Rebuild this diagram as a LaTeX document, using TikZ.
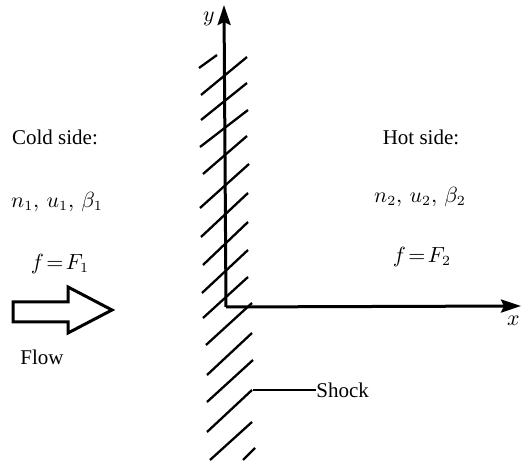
\documentclass[tikz,border=0pt]{standalone}
\usepackage{fontspec}
\setmainfont{Liberation Serif}
\usetikzlibrary{arrows.meta}
\tikzset{
  axis/.style={line width=1.5pt,-{Stealth[length=10pt,width=6.5pt,inset=1.5pt]}},
  hatch/.style={line width=1.15pt},
  lbl/.style={inner sep=0pt,font=\fontsize{10.5}{12}\selectfont},
  flowarrow/.style={line width=1.5pt,line join=miter}
}
\begin{document}
\begin{tikzpicture}[x=0.5pt,y=-0.5pt]
\useasboundingbox (0,0) rectangle (521,464);
% axes
\coordinate (O) at (226,307);
\coordinate (ytip) at (224,5);
\coordinate (xtip) at (521,306);
\draw[axis] (O) -- (ytip);
\draw[axis] (O) -- (xtip);
\node[lbl,anchor=center] (ylab) at (209,19) {$y$};
\node[lbl,anchor=east] (xlab) at (520,321) {$x$};
% hatching (shock)
\foreach \a/\b/\c/\d in {199/68/217/55, 201/95/247/57, 201/120/247/83, 200/147/248/110,
  203/174/247/136, 200/208/249/164, 201/237/248/193, 203/265/248/222, 202/293/248/250,
  203/318/248/277, 206/345/252/303, 207/375/252/333, 207/402/253/360, 207/432/252/390,
  210/460/252/422, 243/460/255/448}
  \draw[hatch] (\a,\b) -- (\c,\d);
% shock leader
\coordinate (sh) at (253,390);
\node[lbl,anchor=west] (shock) at (316,390) {Shock};
\draw[line width=0.7pt] (sh) -- (shock.west);
% cold side
\node[lbl] (cold) at (55,137) {Cold side:};
\node[lbl] (st1) at (57,202) {$n_1,\, u_1,\, \beta_1$};
\node[lbl] (f1) at (60,264) {$f\!=\!F_1$};
% hot side
\node[lbl] (hot) at (421,137) {Hot side:};
\node[lbl] (st2) at (420,197) {$n_2,\, u_2,\, \beta_2$};
\node[lbl] (f2) at (422,257) {$f\!=\!F_2$};
% flow arrow
\draw[flowarrow] (13,302) -- (68,302) -- (68,287) -- (112,310) -- (68,333) -- (68,322) -- (13,322) -- cycle;
\node[lbl] (flow) at (42,357) {Flow};
\end{tikzpicture}
\end{document}
